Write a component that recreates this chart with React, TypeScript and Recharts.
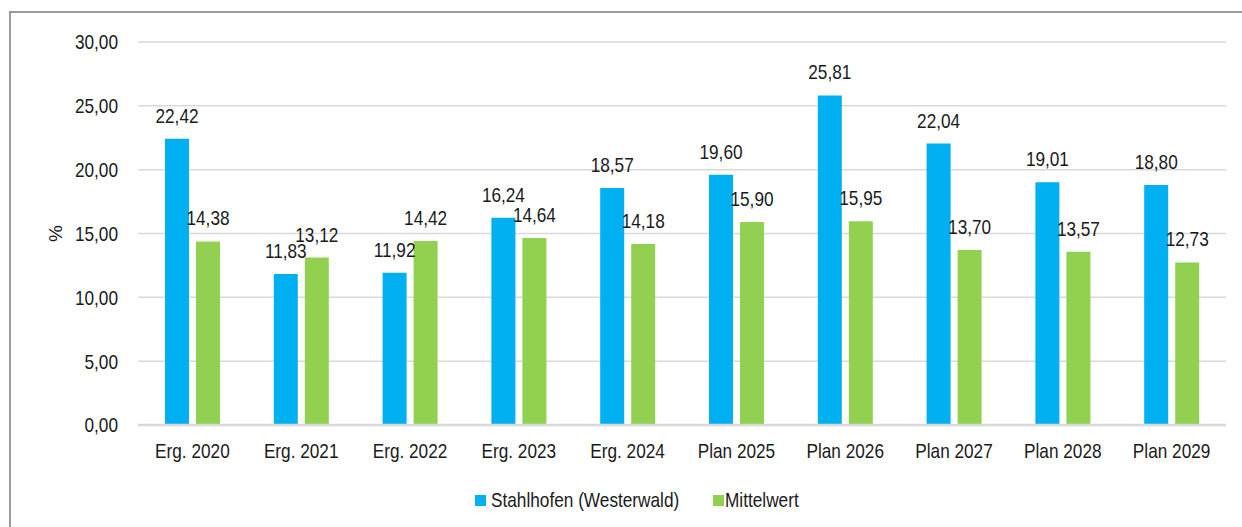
import React from 'react';
import { BarChart, Bar, XAxis, YAxis, CartesianGrid, Legend, LabelList } from 'recharts';

const categories = ['Erg. 2020', 'Erg. 2021', 'Erg. 2022', 'Erg. 2023', 'Erg. 2024', 'Plan 2025', 'Plan 2026', 'Plan 2027', 'Plan 2028', 'Plan 2029'];
const stahlhofen = [22.42, 11.83, 11.92, 16.24, 18.57, 19.6, 25.81, 22.04, 19.01, 18.8];
const mittelwert = [14.38, 13.12, 14.42, 14.64, 14.18, 15.9, 15.95, 13.7, 13.57, 12.73];
const yTicks = [0, 5, 10, 15, 20, 25, 30];
const seriesNames = ['Stahlhofen (Westerwald)', 'Mittelwert'];
const seriesColors = ['#00B0F0', '#92D050'];

const data = categories.map((c, i) => ({ name: c, s: stahlhofen[i], m: mittelwert[i] }));

const FONT = '"Liberation Sans", Arial, sans-serif';
const FS = 21;
const SX = 0.82;
const TXT = '#1a1a1a';

const fmt = (v: any) => Number(v).toFixed(2).replace('.', ',');

const XTick = (props: any) => {
  const { x, y, payload } = props;
  return (
    <g transform={`translate(${x},${y})`}>
      <text transform={`scale(${SX},1)`} textAnchor="middle" dy="0.71em" fill={TXT} fontSize={FS} fontFamily={FONT}>
        {payload.value}
      </text>
    </g>
  );
};

const YTick = (props: any) => {
  const { x, y, payload } = props;
  return (
    <g transform={`translate(${x},${y})`}>
      <text transform={`scale(${SX},1)`} textAnchor="end" dy="0.355em" fill={TXT} fontSize={FS} fontFamily={FONT}>
        {fmt(payload.value)}
      </text>
    </g>
  );
};

const BarLabel = (props: any) => {
  const { x, y, width, value } = props;
  const cx = Number(x) + Number(width) / 2;
  const cy = Number(y) - 16;
  return (
    <g transform={`translate(${cx},${cy})`}>
      <text transform={`scale(${SX},1)`} textAnchor="middle" fill={TXT} fontSize={FS} fontFamily={FONT}>
        {fmt(value)}
      </text>
    </g>
  );
};

const legendPos = [
  { sq: 0, tx: 16 },
  { sq: 238, tx: 250 },
];

const renderLegend = () => (
  <div style={{ position: 'relative', width: 420, height: 52, fontFamily: FONT, fontSize: FS, color: TXT, whiteSpace: 'nowrap' }}>
    {seriesNames.map((n, i) => (
      <React.Fragment key={n}>
        <div style={{ position: 'absolute', left: legendPos[i].sq, top: 8, width: 11, height: 11, background: seriesColors[i] }} />
        <span style={{ position: 'absolute', left: legendPos[i].tx, top: 1, lineHeight: '24px', transform: `scaleX(${SX})`, transformOrigin: 'left center' }}>{n}</span>
      </React.Fragment>
    ))}
  </div>
);

export default function App() {
  return (
    <div style={{ position: 'fixed', left: 0, top: 0, width: 1242, height: 527, overflow: 'hidden', background: '#fff' }}>
      <div style={{ position: 'absolute', left: 9, top: 11, width: 1260, height: 540, border: '2px solid #9a9a9a', boxSizing: 'border-box' }} />
      <div style={{ position: 'absolute', left: 0, top: 0 }}>
        <BarChart
          width={1242}
          height={527}
          data={data}
          margin={{ top: 42, right: 16, left: 0, bottom: 0 }}
          barSize={24}
          barGap={7}
        >
          <CartesianGrid vertical={false} stroke="#d9d9d9" strokeWidth={1.5} />
          <XAxis
            dataKey="name"
            height={50}
            tickLine={false}
            tickSize={0}
            tickMargin={18}
            axisLine={{ stroke: '#d9d9d9', strokeWidth: 2.5 }}
            tick={<XTick />}
            interval={0}
          />
          <YAxis
            width={138}
            domain={[0, 30]}
            ticks={yTicks}
            axisLine={false}
            tickLine={false}
            tickSize={0}
            tickMargin={20}
            tick={<YTick />}
            label={{
              content: (props: any) => {
                const vb = props.viewBox || { x: 0, y: 42, width: 138, height: 383 };
                const cx = vb.x + 55;
                const cy = vb.y + vb.height / 2;
                return (
                  <text x={cx} y={cy} transform={`rotate(-90, ${cx}, ${cy})`} textAnchor="middle" dominantBaseline="central" fill={TXT} fontSize={FS - 2} fontFamily={FONT}>
                    %
                  </text>
                );
              },
            }}
          />
          <Legend
            verticalAlign="bottom"
            height={52}
            content={renderLegend}
            wrapperStyle={{ position: 'absolute', left: 475, top: 487, width: 420, height: 52 }}
          />
          <Bar dataKey="s" name={seriesNames[0]} fill={seriesColors[0]} isAnimationActive={false}>
            <LabelList dataKey="s" content={<BarLabel />} />
          </Bar>
          <Bar dataKey="m" name={seriesNames[1]} fill={seriesColors[1]} isAnimationActive={false}>
            <LabelList dataKey="m" content={<BarLabel />} />
          </Bar>
        </BarChart>
      </div>
    </div>
  );
}
